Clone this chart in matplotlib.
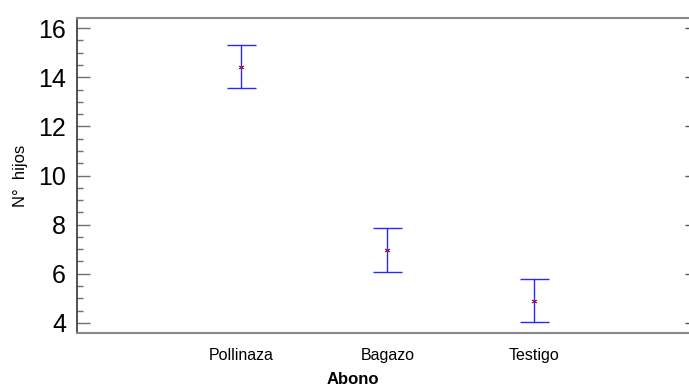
import matplotlib
matplotlib.use("Agg")
import matplotlib.pyplot as plt
from matplotlib.ticker import MultipleLocator

categories = ["Pollinaza", "Bagazo", "Testigo"]
means = [14.43, 6.98, 4.90]
lower = [13.55, 6.07, 4.02]
upper = [15.32, 7.87, 5.78]
yticks = [4, 6, 8, 10, 12, 14, 16]

plt.rcParams['font.family'] = ['Liberation Sans', 'DejaVu Sans']

W, H = 689, 389
fig = plt.figure(figsize=(W/100, H/100), dpi=100)
ax = fig.add_axes([77/W, 1-333/H, (689-77)/W, (333-18)/H])

xs = [1, 2, 3]
yerr_lo = [m - l for m, l in zip(means, lower)]
yerr_hi = [u - m for m, u in zip(means, upper)]
ax.errorbar(xs, means, yerr=[yerr_lo, yerr_hi], fmt='none', ecolor='#2828ff',
            elinewidth=1.0, capsize=14.5*0.72, capthick=1.0)
ax.plot(xs, means, linestyle='none', marker=(6, 2, 0), markersize=4,
        color='#8a1f6a', markeredgewidth=0.7)

ax.set_xlim(-0.12, 4.06)
ax.set_ylim(3.59, 16.41)
ax.set_xticks(xs)
ax.set_xticklabels(categories, fontsize=11.5)
ax.set_yticks(yticks)
ax.set_yticklabels([str(t) for t in yticks], fontsize=18)
ax.yaxis.set_minor_locator(MultipleLocator(0.5))

ax.tick_params(axis='x', length=0, pad=11)
ax.tick_params(axis='y', which='major', direction='in', length=9, width=1.0,
               color='#707070', left=True, right=False, pad=8)
ax.tick_params(axis='y', which='minor', direction='in', length=4.5, width=1.0,
               color='#707070', left=True, right=False)

ax2 = ax.twinx()
ax2.set_ylim(ax.get_ylim())
ax2.set_yticks(yticks)
ax2.tick_params(axis='y', direction='in', length=3, width=1.0, color='#555555',
                labelright=False)
for s in ax2.spines.values():
    s.set_visible(False)

for s in ['top', 'bottom']:
    ax.spines[s].set_color('#888888')
    ax.spines[s].set_linewidth(1.5)
ax.spines['left'].set_color('#333333')
ax.spines['left'].set_linewidth(1.2)
ax.spines['right'].set_visible(False)

ax.set_ylabel("N°  hijos", fontsize=12)
ax.yaxis.set_label_coords(-(77-20)/(689-77), 0.5)
ax.yaxis.label.set_va('center')

fig.text(353/W, 1.5/H, "Abono", fontsize=12, fontweight='bold',
         ha='center', va='bottom')

fig.savefig("out.png", dpi=100)
